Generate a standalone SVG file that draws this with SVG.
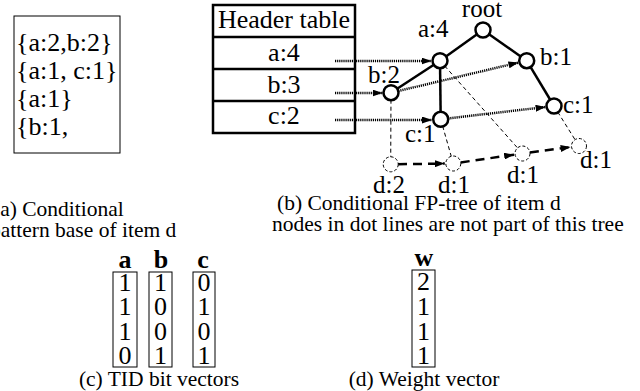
<svg xmlns="http://www.w3.org/2000/svg" width="640" height="391" viewBox="0 0 640 391">
<defs>
<style>
text{font-family:"Liberation Serif","Times New Roman",serif;fill:#000}
.lbl{font-size:25px}
.cap{font-size:21.5px}
.big{font-size:26px}
.bold{font-size:26px;font-weight:bold}
.thinbox{fill:none;stroke:#000;stroke-width:1}
.tbl{fill:none;stroke:#000;stroke-width:2.5}
.node{fill:#fff;stroke:#000;stroke-width:2.5}
.dnode{fill:#fff;stroke:#000;stroke-width:1;stroke-dasharray:3 2}
.edge{stroke:#000;stroke-width:2.5;fill:none}
.dotted{stroke:#000;stroke-width:2.5;stroke-dasharray:1.2 0.9;fill:none}
.thindash{stroke:#000;stroke-width:1;stroke-dasharray:4 3;fill:none}
.thickdash{stroke:#000;stroke-width:2.5;stroke-dasharray:9 6;fill:none}
</style>
<marker id="ah" viewBox="0 0 10 7" refX="10" refY="3.5" markerWidth="10" markerHeight="7" markerUnits="userSpaceOnUse" orient="auto">
<path d="M0,0 L10,3.5 L0,7 z" fill="#000"/>
</marker>
</defs>
<rect width="640" height="391" fill="#fff"/>
<g font-family="Liberation Serif, Times New Roman, serif">

<g id="pattern-base">
<rect class="thinbox" x="14" y="16" width="106" height="137"/>
<text class="big" x="16" y="51">{a:2,b:2}</text>
<text class="big" x="16" y="79">{a:1, c:1}</text>
<text class="big" x="16" y="107">{a:1}</text>
<text class="big" x="16" y="135">{b:1,</text>
</g>
<text class="cap" x="-7" y="216">(a) Conditional</text>
<text class="cap" x="-10" y="237">pattern base of item d</text>

<g id="header-table">
<rect class="tbl" x="213" y="5" width="142" height="128"/>
<line class="tbl" x1="213" y1="37" x2="355" y2="37"/>
<line class="tbl" x1="213" y1="69" x2="355" y2="69"/>
<line class="tbl" x1="213" y1="101" x2="355" y2="101"/>
<text class="big" x="284" y="28" text-anchor="middle">Header table</text>
<text class="big" x="284" y="61" text-anchor="middle">a:4</text>
<text class="big" x="284" y="93" text-anchor="middle">b:3</text>
<text class="big" x="284" y="124" text-anchor="middle">c:2</text>
</g>

<g id="connectors">
<line class="edge" x1="483" y1="30" x2="440" y2="60.7"/>
<line class="edge" x1="483" y1="30" x2="526.7" y2="60.7"/>
<line class="edge" x1="440" y1="60.7" x2="391" y2="92.7"/>
<line class="edge" x1="440" y1="60.7" x2="440.7" y2="119.3"/>
<line class="edge" x1="526.7" y1="60.7" x2="554" y2="106"/>
<line class="thindash" x1="391" y1="92.7" x2="390.7" y2="164.3"/>
<line class="thindash" x1="440.7" y1="119.3" x2="453.3" y2="163.5"/>
<line class="thindash" x1="440" y1="60.7" x2="522.5" y2="153.5"/>
<line class="thindash" x1="554" y1="106" x2="579" y2="146"/>
<line class="dotted" x1="335" y1="61" x2="431.5" y2="61" marker-end="url(#ah)"/>
<line class="dotted" x1="335" y1="93" x2="382.5" y2="93" marker-end="url(#ah)"/>
<line class="dotted" x1="335" y1="120" x2="432" y2="120" marker-end="url(#ah)"/>
<line class="dotted" x1="398.3" y1="91" x2="518.4" y2="62.6" marker-end="url(#ah)"/>
<line class="dotted" x1="448.2" y1="118.4" x2="545.6" y2="107" marker-end="url(#ah)"/>
<line class="thickdash" x1="398" y1="164.2" x2="444.8" y2="163.6" marker-end="url(#ah)"/>
<line class="thickdash" x1="460.7" y1="162.4" x2="514.1" y2="154.7" marker-end="url(#ah)"/>
<line class="thickdash" x1="529.9" y1="152.5" x2="570.6" y2="147.1" marker-end="url(#ah)"/>
</g>

<g id="root"><circle class="node" cx="483" cy="30" r="7.5"/><text class="lbl" x="482" y="17" text-anchor="middle">root</text></g>
<g id="a4"><circle class="node" cx="440" cy="60.7" r="7.5"/><text class="lbl" x="418" y="36.5">a:4</text></g>
<g id="b1"><circle class="node" cx="526.7" cy="60.7" r="7.5"/><text class="lbl" x="540" y="65">b:1</text></g>
<g id="c1r"><circle class="node" cx="554" cy="106" r="7.5"/><text class="lbl" x="563" y="113">c:1</text></g>
<g id="b2"><circle class="node" cx="391" cy="92.7" r="7.5"/><text class="lbl" x="368" y="83.3">b:2</text></g>
<g id="c1l"><circle class="node" cx="440.7" cy="119.3" r="7.5"/><text class="lbl" x="405" y="142">c:1</text></g>
<g id="d2"><circle class="dnode" cx="390.7" cy="164.3" r="7.5"/><text class="lbl" x="373" y="193">d:2</text></g>
<g id="d1a"><circle class="dnode" cx="453.3" cy="163.5" r="7.5"/><text class="lbl" x="438" y="193">d:1</text></g>
<g id="d1b"><circle class="dnode" cx="522.5" cy="153.5" r="7.5"/><text class="lbl" x="507" y="183">d:1</text></g>
<g id="d1c"><circle class="dnode" cx="579" cy="146" r="7.5"/><text class="lbl" x="580" y="168">d:1</text></g>

<text class="cap" x="277" y="210">(b) Conditional FP-tree of item d</text>
<text class="cap" x="272" y="231">nodes in dot lines are not part of this tree</text>

<g id="vec-a">
<text class="bold" x="125" y="268" text-anchor="middle">a</text>
<rect class="thinbox" x="113" y="272" width="24" height="95"/>
<text class="big" x="125" y="291" text-anchor="middle">1</text>
<text class="big" x="125" y="315" text-anchor="middle">1</text>
<text class="big" x="125" y="340" text-anchor="middle">1</text>
<text class="big" x="125" y="364" text-anchor="middle">0</text>
</g>
<g id="vec-b">
<text class="bold" x="161" y="268" text-anchor="middle">b</text>
<rect class="thinbox" x="149" y="272" width="23" height="95"/>
<text class="big" x="160.5" y="291" text-anchor="middle">1</text>
<text class="big" x="160.5" y="315" text-anchor="middle">0</text>
<text class="big" x="160.5" y="340" text-anchor="middle">0</text>
<text class="big" x="160.5" y="364" text-anchor="middle">1</text>
</g>
<g id="vec-c">
<text class="bold" x="203" y="268" text-anchor="middle">c</text>
<rect class="thinbox" x="193" y="272" width="22" height="95"/>
<text class="big" x="204" y="291" text-anchor="middle">0</text>
<text class="big" x="204" y="315" text-anchor="middle">1</text>
<text class="big" x="204" y="340" text-anchor="middle">0</text>
<text class="big" x="204" y="364" text-anchor="middle">1</text>
</g>
<text class="cap" x="159" y="386" text-anchor="middle">(c) TID bit vectors</text>

<g id="vec-w">
<text class="bold" x="424" y="266" text-anchor="middle">w</text>
<rect class="thinbox" x="412" y="270" width="23" height="97"/>
<text class="big" x="423.5" y="290" text-anchor="middle">2</text>
<text class="big" x="423.5" y="315" text-anchor="middle">1</text>
<text class="big" x="423.5" y="340" text-anchor="middle">1</text>
<text class="big" x="423.5" y="364" text-anchor="middle">1</text>
</g>
<text class="cap" x="424" y="386" text-anchor="middle">(d) Weight vector</text>
</g>
</svg>
